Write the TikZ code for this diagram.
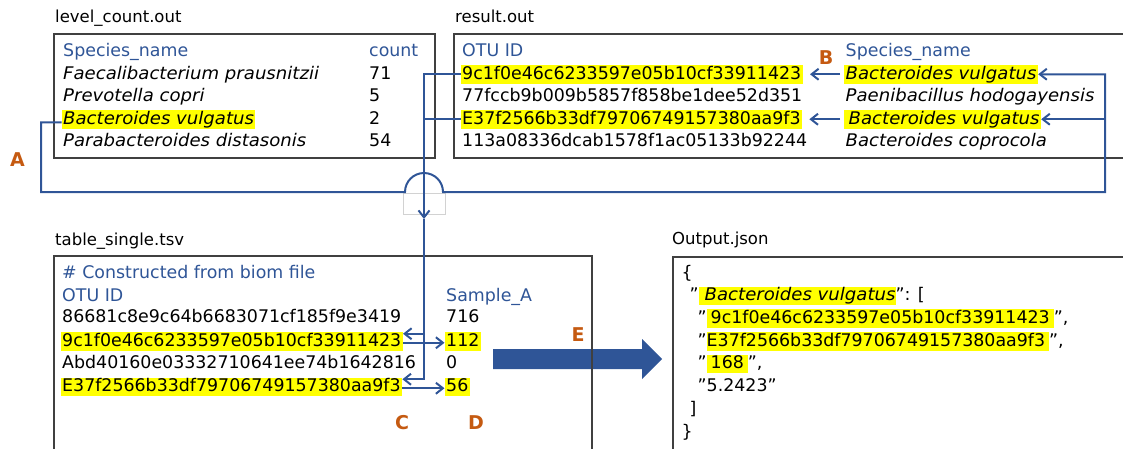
\documentclass[tikz,border=0pt]{standalone}
\usepackage{fontspec}
\setmainfont{DejaVu Sans}[ItalicFeatures={FakeStretch=1.04}]
\usetikzlibrary{arrows.meta}
\definecolor{lineblue}{HTML}{2F5597}
\definecolor{headblue}{HTML}{2F5597}
\definecolor{tagorange}{HTML}{C55A11}
\definecolor{hlyellow}{HTML}{FFFF00}
\definecolor{boxgray}{HTML}{404040}
\newcommand\hlrun[1]{{\setlength{\fboxsep}{0pt}\colorbox{hlyellow}{\rule[-4.5pt]{0pt}{18.5pt}#1}}}
\newcommand\bodyfont{\fontsize{17.4}{20}\selectfont}
\newcommand\dq{\char34\relax}

\begin{document}
\begin{tikzpicture}[x=1pt,y=-1pt,
  every node/.style={inner sep=0pt},
  txt/.style={anchor=base west, inner xsep=1.5pt, inner ysep=0pt, font=\bodyfont},
  sp/.style={txt, font=\bodyfont\itshape},
  colhead/.style={txt, text=headblue},
  hl/.style={txt, fill=hlyellow, text height=14pt, text depth=4.5pt},
  sphl/.style={hl, font=\bodyfont\itshape},
  filecap/.style={anchor=base west, font=\fontsize{16.5}{19}\selectfont},
  steptag/.style={text=tagorange, font=\fontsize{19}{22}\selectfont\bfseries},
  filebox/.style={draw=boxgray, line width=1.1pt},
  conn/.style={draw=lineblue, line width=2pt},
  barb/.style={-{Straight Barb[length=7pt,width=11pt]}},
]
\useasboundingbox (0,0) rectangle (1123,448);
\clip (0,0) rectangle (1123,448);

% ---------- block arrow between the two lower files ----------
\fill[lineblue] (493,349) -- (642,349) -- (642,339) -- (662,359) -- (642,379) -- (642,369) -- (493,369) -- cycle;

% ---------- file frames ----------
\draw[filebox] (54,34) rectangle (435,158);
\draw[filebox] (454,34) rectangle (1140,158);
\draw[filebox] (54,256) rectangle (592,470);
\draw[filebox] (673,257) rectangle (1140,470);

\node[filecap] (c1) at (55,22) {level\_count.out};
\node[filecap] (c2) at (455,22) {result.out};
\node[filecap] (c3) at (55,245) {table\_single.tsv};
\node[filecap] (c4) at (672,244) {Output.json};

% ---------- level_count.out ----------
\node[colhead] (l0a) at (61.5,56) {Species\_name};
\node[colhead] (l0b) at (367.5,56) {count};
\node[sp] (l1a) at (61.5,79) {Faecalibacterium prausnitzii};
\node[txt] (l1b) at (367.5,79) {71};
\node[sp] (l2a) at (61.5,101.5) {Prevotella copri};
\node[txt] (l2b) at (367.5,101.5) {5};
\node[sphl] (lbv) at (61.5,124) {Bacteroides vulgatus};
\node[txt] (l3b) at (367.5,124) {2};
\node[sp] (l4a) at (61.5,146.7) {Parabacteroides distasonis};
\node[txt] (l4b) at (367.5,146.7) {54};

% ---------- result.out ----------
\node[colhead] (r0a) at (460.5,56) {OTU ID};
\node[colhead] (r0b) at (844,56) {Species\_name};
\node[hl] (h1) at (460.5,79) {9c1f0e46c6233597e05b10cf33911423};
\node[txt] (h2) at (460.5,101.5) {77fccb9b009b5857f858be1dee52d351};
\node[hl] (h3) at (460.5,124) {E37f2566b33df79706749157380aa9f3};
\node[txt] (h4) at (460.5,146.7) {113a08336dcab1578f1ac05133b92244};
\node[sphl] (bvA) at (844,79) {Bacteroides vulgatus};
\node[sp] (s2) at (844,101.5) {Paenibacillus hodogayensis};
\node[sphl] (bvB) at (844,124) {\hspace{3pt}Bacteroides vulgatus};
\node[sp] (s4) at (844,146.7) {Bacteroides coprocola};

% ---------- table_single.tsv ----------
\node[colhead] (t0) at (60.5,278) {\# Constructed from biom file};
\node[colhead] (t0a) at (60.5,301) {OTU ID};
\node[colhead] (t0b) at (444.5,301) {Sample\_A};
\node[txt] (t1) at (60.5,322.7) {86681c8e9c64b6683071cf185f9e3419};
\node[txt] (v1) at (444.5,322.7) {716};
\node[hl] (t2) at (60.5,346) {9c1f0e46c6233597e05b10cf33911423};
\node[hl] (v2) at (444.5,346) {112};
\node[txt] (t3) at (60.5,368.7) {Abd40160e03332710641ee74b1642816};
\node[txt] (v3) at (444.5,368.7) {0};
\node[hl] (t4) at (60.5,391.5) {E37f2566b33df79706749157380aa9f3};
\node[hl] (v4) at (444.5,391.5) {56};

% ---------- Output.json ----------
\node[txt] (o1) at (680,278) {\{};
\node[txt] (o2) at (688,300.7) {\dq\hlrun{\itshape\hspace{6pt}Bacteroides vulgatus}\dq: [};
\node[txt] (o3) at (696,323.4) {\dq\hlrun{\hspace{4pt}9c1f0e46c6233597e05b10cf33911423\hspace{4pt}}\dq,};
\node[txt] (o4) at (696,346.1) {\dq\hlrun{E37f2566b33df79706749157380aa9f3\hspace{4pt}}\dq,};
\node[txt] (o5) at (696,368.8) {\dq\hlrun{\hspace{4pt}168\hspace{4pt}}\dq,};
\node[txt] (o6) at (696,391.5) {\dq 5.2423\dq};
\node[txt] (o7) at (688,414.2) {]};
\node[txt] (o8) at (680,437) {\}};

% ---------- step labels ----------
\node[steptag] (tA) at (17.5,159.5) {A};
\node[steptag] (tB) at (826,58) {B};
\node[steptag] (tC) at (402,423) {C};
\node[steptag] (tD) at (476,423) {D};
\node[steptag] (tE) at (578,334.5) {E};

% ---------- connectors ----------
\coordinate (aL) at (41,192);
\coordinate (brL) at (405,192);
\coordinate (aR) at (1105,192);
\coordinate (cMid) at (424,219);

% light frame under the line hop
\draw[gray!35, line width=0.6pt] (403,193) rectangle (445,214);

% A: species name carried over to result.out
\draw[conn,barb] ([yshift=-3pt]lbv.west) -| (aL) -- (brL)
  arc[start angle=180,end angle=0,radius=19pt] -- (aR) |- (bvA.east);
\draw[conn,barb] (aR |- bvB.east) -- (bvB.east);

% B: species name to OTU ID
\draw[conn,barb] ([xshift=-4pt]bvA.west) -- ([xshift=7pt]h1.east);
\draw[conn,barb] ([xshift=-4pt]bvB.west) -- ([xshift=7pt]h3.east);

% C: OTU IDs looked up in the table
\draw[conn,barb] (h1.west) -| (cMid);
\draw[conn] (h3.west) -- (h3.west -| cMid);
\draw[conn,barb] (cMid) |- ([yshift=7.5pt]t4.east);
\draw[conn,barb] ([yshift=7.5pt]t2.east -| cMid) -- ([yshift=7.5pt]t2.east);

% D: read the sample counts
\draw[conn,barb] ([yshift=-1.5pt]t2.east) -- ([yshift=-1.5pt]t2.east -| v2.west);
\draw[conn,barb] ([yshift=-1.5pt]t4.east) -- ([yshift=-1.5pt]t4.east -| v4.west);
\end{tikzpicture}
\end{document}
